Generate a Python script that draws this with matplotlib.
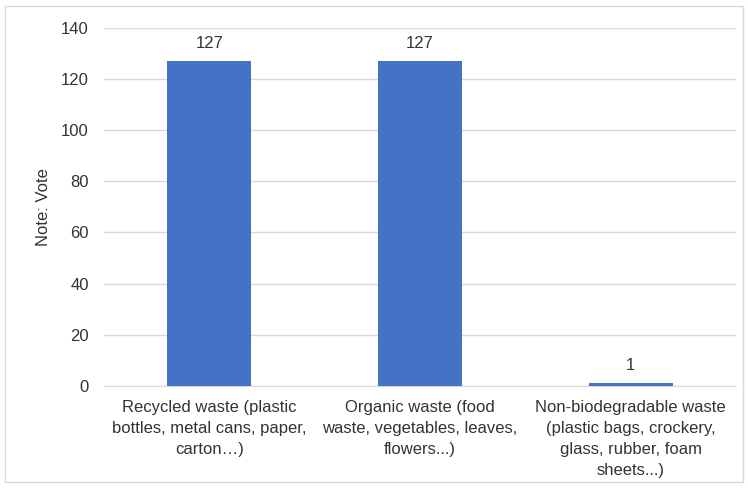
import matplotlib.pyplot as plt
from matplotlib.patches import Rectangle

plt.rcParams['font.family'] = ['Liberation Sans', 'DejaVu Sans']

categories = [
    "Recycled waste (plastic\nbottles, metal cans, paper,\ncarton\u2026)",
    "Organic waste (food\nwaste, vegetables, leaves,\nflowers...)",
    "Non-biodegradable waste\n(plastic bags, crockery,\nglass, rubber, foam\nsheets...)",
]
votes = [127, 127, 1]
yticks = [0, 20, 40, 60, 80, 100, 120, 140]

txt = '#333333'
fs = 12

fig = plt.figure(figsize=(7.48, 4.88), dpi=100)
ax = fig.add_axes([0.139, 0.209, 0.845, 0.734])

x = range(len(categories))
bars = ax.bar(x, votes, width=0.4, color='#4472C4', zorder=3)
for b, v in zip(bars, votes):
    ax.text(b.get_x() + b.get_width() / 2, v + 4, str(v), ha='center', va='bottom',
            fontsize=fs, color=txt)

ax.set_xlim(-0.5, 2.5)
ax.set_ylim(0, 140)
ax.set_yticks(yticks)
ax.set_xticks(list(x))
ax.set_xticklabels(categories, fontsize=fs, color=txt, linespacing=1.5)
ax.tick_params(axis='y', labelsize=fs, colors=txt, length=0, pad=11)
ax.tick_params(axis='x', length=0, pad=10)
ax.grid(axis='y', color='#D9D9D9', linewidth=1, zorder=0)
for s in ['top', 'right', 'left']:
    ax.spines[s].set_visible(False)
ax.spines['bottom'].set_color('#D9D9D9')
ax.set_ylabel('Note: Vote', fontsize=fs, color=txt, labelpad=7)

fig.patches.append(Rectangle((0.007, 0.012), 0.986, 0.976, transform=fig.transFigure,
                             fill=False, edgecolor='#D9D9D9', linewidth=1))

fig.savefig('out.png', dpi=100)
